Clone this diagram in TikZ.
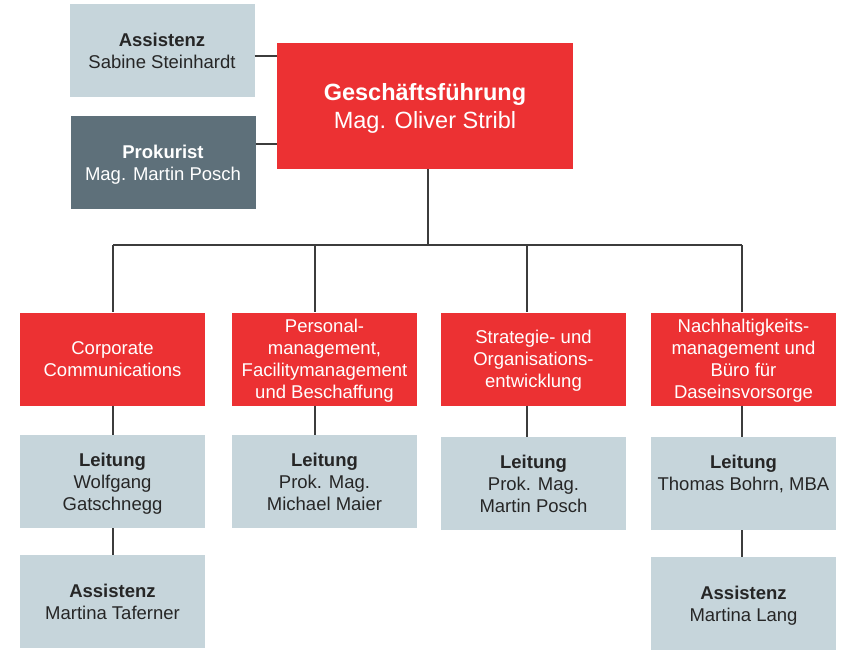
\documentclass[tikz,border=0pt]{standalone}
\usepackage{fontspec}
\setmainfont{Liberation Sans}
\usepackage{tikz}
\usetikzlibrary{positioning}
\definecolor{gfred}{HTML}{EC3133}
\definecolor{paleblue}{HTML}{C6D5DB}
\definecolor{slate}{HTML}{5E707A}
\definecolor{linegrey}{HTML}{3C3C3C}

\begin{document}
\begin{tikzpicture}[x=1pt, y=-1pt,
    box/.style = {rectangle, minimum width=185pt, minimum height=93pt, inner sep=0pt,
                  text depth=0pt, align=center, font=\fontsize{18.5}{22}\selectfont},
    redbox/.style = {box, fill=gfred, text=white},
    greybox/.style = {box, fill=paleblue, text=black!85},
    darkbox/.style = {box, fill=slate, text=white},
    link/.style = {draw=linegrey, line width=1.1pt}]
  \useasboundingbox (0,0) rectangle (852,651);
  \node [redbox, minimum width=296pt, minimum height=126pt,
         font=\fontsize{23.5}{28}\selectfont] (gf) at (425,106)
        {\textbf{Geschäftsführung}\\Mag. Oliver Stribl};
  \node [greybox] (sek) at (162,50.5) {\textbf{Assistenz}\\Sabine Steinhardt};
  \node [darkbox] (prok) at (163,162.5) {\textbf{Prokurist}\\Mag. Martin Posch};

  \node [redbox] (cc) at (112.5,359) {Corporate\\Communications};
  \node [redbox] (pers) at (324.5,359)
        {Personal-\\management,\\Facilitymanagement\\und Beschaffung};
  \node [redbox] (strat) at (533.5,359) {Strategie- und\\Organisations-\\entwicklung};
  \node [redbox] (nach) at (743.5,359)
        {Nachhaltigkeits-\\management und\\Büro für\\Daseinsvorsorge};

  \node [greybox, below=29pt of cc] (lcc) {\textbf{Leitung}\\Wolfgang\\Gatschnegg};
  \node [greybox, below=29pt of pers] (lpers) {\textbf{Leitung}\\Prok. Mag.\\Michael Maier};
  \node [greybox, below=31pt of strat] (lstrat) {\textbf{Leitung}\\Prok. Mag.\\Martin Posch};
  \node [greybox, below=31pt of nach] (lnach) {\textbf{Leitung}\\Thomas Bohrn, MBA\\\mbox{}};

  \node [greybox, below=27pt of lcc] (acc) {\textbf{Assistenz}\\Martina Taferner};
  \node [greybox, below=27pt of lnach] (anach) {\textbf{Assistenz}\\Martina Lang};

  \coordinate (c1) at (113,245);
  \coordinate (c2) at (315,245);
  \coordinate (c3) at (527,245);
  \coordinate (c4) at (742,245);
  \coordinate (top) at (428,245);

  \draw [link] ([yshift=-5.5pt]sek.east) -- ([yshift=-5.5pt]sek.east -| gf.west);
  \draw [link] ([yshift=18.5pt]prok.east) -- ([yshift=18.5pt]prok.east -| gf.west);
  \draw [link] (gf.south -| top) -- (top);
  \draw [link] (c1) -- (c4);
  \foreach \c/\a/\b in {c1/cc/lcc, c2/pers/lpers, c3/strat/lstrat, c4/nach/lnach} {
    \draw [link] (\c) -- (\c |- \a.north);
    \draw [link] (\c |- \a.south) -- (\c |- \b.north);
  }
  \draw [link] (c1 |- lcc.south) -- (c1 |- acc.north);
  \draw [link] (c4 |- lnach.south) -- (c4 |- anach.north);
\end{tikzpicture}
\end{document}
